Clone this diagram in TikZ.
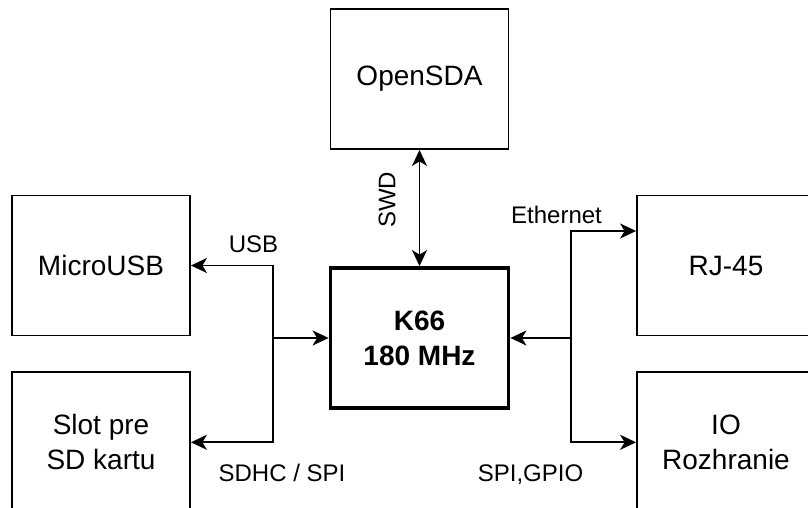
\documentclass[tikz,border=0pt]{standalone}
\usepackage{fontspec}
\setmainfont{Liberation Sans}
\usetikzlibrary{positioning, arrows.meta}

\begin{document}
\begin{tikzpicture}[x=1pt, y=-1pt,
      pointe/.tip={Stealth[length=16pt, width=15pt, inset=4.5pt]},
      bloc/.style={draw=black, line width=1.8pt, align=center,
                   font=\fontsize{28}{35}\selectfont,
                   minimum width=178pt, minimum height=140pt, inner sep=0pt},
      coeur/.style={line width=3.8pt, font=\fontsize{28}{35}\selectfont\bfseries},
      lbl/.style={font=\fontsize{24}{30}\selectfont, inner sep=0pt, anchor=base},
      fleche/.style={-pointe, line width=1.8pt},
      dfleche/.style={pointe-pointe, line width=1.8pt},
      node distance=35pt]
    \useasboundingbox (0,0) rectangle (808,507);
    \clip (0,0) rectangle (808,507);
    \node[bloc, coeur]          (k66)      at (419.5,338) {K66\\180 MHz};
    \node[bloc]                 (opensda)  at (419.5,79)  {OpenSDA};
    \node[bloc]                 (microusb) at (101,265.5) {MicroUSB};
    \node[bloc, below=of microusb] (slot)  {Slot pre\\SD kartu};
    \node[bloc]                 (rj45)     at (726,265.5) {RJ-45};
    \node[bloc, below=of rj45]  (io)       {IO\\Rozhranie};
    % rozvetvenia
    \coordinate (jg) at (273,338);
    \coordinate (jd) at (571,338);
    \draw[fleche] (jg) -- (k66.west);
    \draw[fleche] (jg) |- (microusb.east);
    \draw[fleche] (jg) |- (slot.east);
    \draw[fleche] (jd) -- (k66.east);
    \draw[fleche] (jd) |- ([yshift=34.5pt]rj45.west);
    \draw[fleche] (jd) |- (io.west);
    \draw[dfleche] (k66.north) -- node[lbl, sloped, pos=0.57, above=23pt] (swd) {SWD} (opensda.south);
    % popisy
    \node[lbl] (usb)      at (253.5,252) {USB};
    \node[lbl] (sdhc)     at (282,481)   {SDHC / SPI};
    \node[lbl] (ethernet) at (556.5,223) {Ethernet};
    \node[lbl] (spigpio)  at (530.5,481) {SPI,GPIO};
\end{tikzpicture}
\end{document}
